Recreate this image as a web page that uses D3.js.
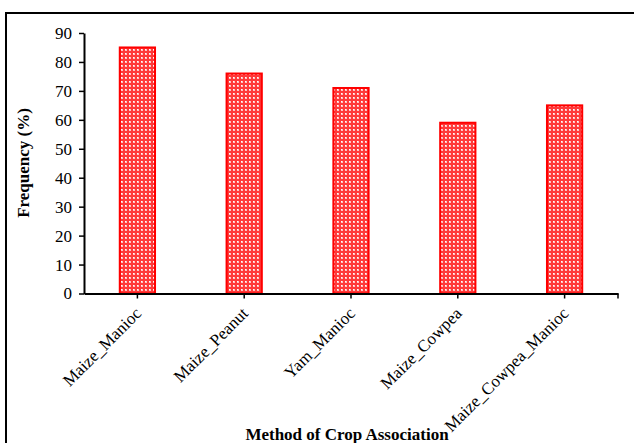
<!DOCTYPE html>
<html>
<head>
<meta charset="utf-8">
<script src="https://cdn.jsdelivr.net/npm/d3@7"></script>
<style>
  body { margin: 0; background: #fff; }
  svg text { font-family: "Liberation Serif", "Times New Roman", serif; fill: #000; }
</style>
</head>
<body>
<div id="chart"></div>
<script>
// crop association methods and their frequency (%)
const categories = ['Maize_Manioc', 'Maize_Peanut', 'Yam_Manioc', 'Maize_Cowpea', 'Maize_Cowpea_Manioc'];
const frequency = [85, 76, 71, 59, 65];
const yTicks = [0, 10, 20, 30, 40, 50, 60, 70, 80, 90];

var width = 634
var height = 443
var margin = {left: 84, right: 16, top: 33, bottom: 149}

var svg = d3.select('#chart')
  .append('svg')
  .attr('width', width)
  .attr('height', height)

// dotted red fill like the original
var defs = svg.append('defs')
var pat = defs.append('pattern')
  .attr('id', 'dots')
  .attr('patternUnits', 'userSpaceOnUse')
  .attr('width', 4)
  .attr('height', 4)
pat.append('rect').attr('width', 4).attr('height', 4).attr('fill', '#ff3a3a')
pat.append('rect').attr('x', 1).attr('y', 1).attr('width', 2).attr('height', 2).attr('fill', '#ffc4c4')
pat.append('rect').attr('x', 1).attr('y', 1).attr('width', 1).attr('height', 1).attr('fill', '#ffffff')

// outer frame (only top and left edges show in the picture)
svg.append('path')
  .attr('d', `M6,${height} L6,13 L${width},13`)
  .attr('fill', 'none')
  .attr('stroke', '#000')
  .attr('stroke-width', 2)

var x = d3.scaleBand()
  .domain(categories)
  .range([margin.left, width - margin.right])
  .paddingInner(0.67)
  .paddingOuter(0.335)

var y = d3.scaleLinear()
  .domain([0, 90])
  .range([height - margin.bottom - 0.5, margin.top])

var g = svg.append('g')

// bars
g.selectAll('rect.bar')
  .data(frequency)
  .enter()
  .append('rect')
  .attr('class', 'bar')
  .attr('x', (d, i) => x(categories[i]))
  .attr('y', d => y(d))
  .attr('width', x.bandwidth())
  .attr('height', d => y(0) - y(d))
  .attr('fill', 'url(#dots)')
  .attr('stroke', '#ff0000')
  .attr('stroke-width', 2)

// y axis
var yAxis = g.append('g')
  .attr('transform', `translate(${margin.left},0)`)
  .call(d3.axisLeft(y).tickValues(yTicks).tickSize(5).tickPadding(7).tickSizeOuter(0))
yAxis.attr('font-size', null).attr('font-family', null)
yAxis.select('.domain').attr('stroke-width', 2)
yAxis.selectAll('.tick line').attr('stroke-width', 1.5)
yAxis.selectAll('text')
  .style('font-size', '17px')

// x axis
var xAxis = g.append('g')
  .attr('transform', `translate(0,${y(0)})`)
  .call(d3.axisBottom(x).tickSize(5).tickSizeOuter(0))
xAxis.attr('font-size', null).attr('font-family', null)
xAxis.select('.domain').attr('stroke-width', 2)
xAxis.selectAll('.tick line').attr('stroke-width', 1.5)
xAxis.selectAll('text')
  .style('font-size', '17px')
  .style('text-anchor', 'end')
  .attr('x', 0)
  .attr('y', 0)
  .attr('dy', null)
  .attr('transform', 'translate(5,21) rotate(-45)')

// closing tick at the right end of the x axis
xAxis.append('line')
  .attr('x1', width - margin.right)
  .attr('x2', width - margin.right)
  .attr('y1', 0)
  .attr('y2', 5)
  .attr('stroke', '#000')
  .attr('stroke-width', 1.5)

// axis titles
svg.append('text')
  .attr('x', 347)
  .attr('y', 440)
  .attr('text-anchor', 'middle')
  .style('font-size', '17px')
  .style('font-weight', 'bold')
  .text('Method of Crop Association')

svg.append('text')
  .attr('transform', 'translate(29,163) rotate(-90)')
  .attr('text-anchor', 'middle')
  .style('font-size', '17px')
  .style('font-weight', 'bold')
  .text('Frequency (%)')
</script>
</body>
</html>
